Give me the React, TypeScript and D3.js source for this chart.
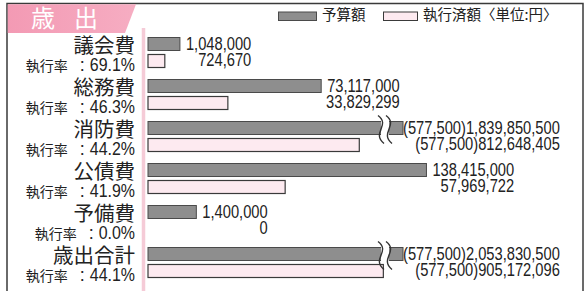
import React, { useEffect, useRef } from 'react';
import * as d3 from 'd3';

// ---- data ----
const categories = ['議会費', '総務費', '消防費', '公債費', '予備費', '歳出合計'];
const executionRates = [69.1, 46.3, 44.2, 41.9, 0.0, 44.1];
const budgetValues = [1048000, 73117000, 1839850500, 138415000, 1400000, 2053830500];
const executedValues = [724670, 33829299, 812648405, 57969722, 0, 905172096];
const notedValues: (number | null)[] = [null, null, 577500, null, null, 577500];
const legendLabels = ['予算額', '執行済額〈単位:円〉'];
const titleText = '歳出';
const rateLabel = '執行率';

const W = 587;
const H = 291;
const CJK = "'Noto Sans CJK JP', 'Noto Sans', sans-serif";
const NUM = "'Liberation Sans', Arial, sans-serif";

type Sel = d3.Selection<any, unknown, null, undefined>;

function narrowText(parent: Sel, x: number, y: number, str: string, size: number, anchor: string, sx: number): number {
  const g = parent.append('g').attr('transform', `translate(${x},${y}) scale(${sx},1)`);
  const t = g.append('text').attr('x', 0).attr('y', 0).attr('text-anchor', anchor)
    .attr('font-family', NUM).attr('font-size', size).attr('fill', '#222').text(str);
  return (t.node() as SVGTextElement).getComputedTextLength() * sx;
}

export default function App() {
  const ref = useRef<SVGSVGElement>(null);
  useEffect(() => {
    const svg = d3.select(ref.current) as unknown as Sel;
    svg.selectAll('*').remove();

    const plotLeft = 148;
    const barH = 13;
    const execOff = 17;

    const y = d3.scaleBand<string>().domain(categories).range([37.5, 37.5 + 42 * categories.length]).paddingInner(0);
    // visual (non-uniform) scale used by the printed chart
    const x = d3.scaleLinear().domain([0, 6e5, 1.5e6, 3.4e7, 7.3e7, 1.4e8]).range([0, 11, 53, 80, 173, 281]);
    // scale for rows whose budget bar is broken (truncated)
    const xLarge = d3.scaleLinear().domain([0, 1e9]).range([0, 260]);
    const capWidth = 255;
    const breakAt = 237;
    const fmt = d3.format(',');
    const maxRegular = x.domain()[x.domain().length - 1];

    // frame
    svg.append('rect').attr('x', 7).attr('y', 3.5).attr('width', 576).attr('height', 300)
      .attr('fill', '#fff').attr('stroke', '#3a3a3a').attr('stroke-width', 1.5);

    // header
    const grad = svg.append('defs').append('linearGradient').attr('id', 'hdr').attr('x1', 0).attr('x2', 1);
    grad.append('stop').attr('offset', 0).attr('stop-color', '#f39ab4');
    grad.append('stop').attr('offset', 1).attr('stop-color', '#f6adc2');
    svg.append('path').attr('d', 'M7.75,4.25 L136,4.25 L125,33 L7.75,33 Z').attr('fill', 'url(#hdr)');
    svg.append('text').attr('x', 31).attr('y', 27).attr('font-family', CJK).attr('font-size', 24)
      .attr('letter-spacing', 19).attr('fill', '#fff').text(titleText);

    // legend
    svg.append('rect').attr('x', 278.5).attr('y', 12).attr('width', 38).attr('height', 8.5)
      .attr('fill', '#8e8e8e').attr('stroke', '#4a4a4a').attr('stroke-width', 1);
    svg.append('text').attr('x', 322).attr('y', 19.5).attr('font-family', CJK).attr('font-size', 14.5)
      .attr('fill', '#222').text(legendLabels[0]);
    svg.append('rect').attr('x', 383.5).attr('y', 12).attr('width', 34).attr('height', 8.5)
      .attr('fill', '#fdeaf0').attr('stroke', '#3a3a3a').attr('stroke-width', 1);
    svg.append('text').attr('x', 423).attr('y', 19.5).attr('font-family', CJK).attr('font-size', 14.5)
      .attr('fill', '#222').text(legendLabels[1]);

    // pink axis line
    svg.append('line').attr('x1', 143.5).attr('x2', 143.5).attr('y1', 28).attr('y2', H)
      .attr('stroke', '#f5cbd7').attr('stroke-width', 3.5);

    categories.forEach((cat, i) => {
      const top = y(cat)!;
      const budget = budgetValues[i];
      const exec = executedValues[i];
      const broken = budget > maxRegular;
      const bw = broken ? capWidth : x(budget);
      const ew = broken ? xLarge(exec) : x(exec);

      // category label
      svg.append('text').attr('x', 135).attr('y', top + 15.5).attr('text-anchor', 'end')
        .attr('font-family', CJK).attr('font-size', 20.5).attr('fill', '#222').text(cat);
      // execution rate line
      const rb = top + 33;
      const dw = narrowText(svg, 135, rb, d3.format('.1f')(executionRates[i]) + '%', 19, 'end', 0.84);
      svg.append('text').attr('x', 135 - dw - 0.5).attr('y', rb).attr('text-anchor', 'end')
        .attr('font-family', CJK).attr('font-size', 14).attr('fill', '#222').text('：');
      svg.append('text').attr('x', 135 - dw - 22).attr('y', rb).attr('text-anchor', 'end')
        .attr('font-family', CJK).attr('font-size', 14).attr('fill', '#222').text(rateLabel);

      // budget bar
      svg.append('rect').attr('x', plotLeft).attr('y', top).attr('width', bw).attr('height', barH)
        .attr('fill', '#8e8e8e').attr('stroke', '#4a4a4a').attr('stroke-width', 1);
      // executed bar
      if (exec > 0) {
        svg.append('rect').attr('x', plotLeft).attr('y', top + execOff).attr('width', ew).attr('height', barH)
          .attr('fill', '#fdeaf0').attr('stroke', '#3a3a3a').attr('stroke-width', 1.2);
      }

      if (broken) {
        const bx = plotLeft + breakAt;
        const y0 = top - 6;
        const y1 = top + barH + 9;
        const L = y1 - y0;
        svg.append('rect').attr('x', bx - 4).attr('y', top - 1).attr('width', 8).attr('height', barH + 2).attr('fill', '#fff');
        [-4, 4].forEach((o) => {
          const cx = bx + o;
          svg.append('path')
            .attr('d', `M${cx - 3},${y0} C${cx + 10},${y0 + L * 0.35} ${cx - 10},${y0 + L * 0.62} ${cx + 3},${y1}`)
            .attr('fill', 'none').attr('stroke', '#333').attr('stroke-width', 1.4);
        });
      }

      // value labels
      const note = notedValues[i];
      const pre = note != null ? `(${fmt(note)})` : '';
      const gap = broken ? 0 : 6;
      const sx = 0.84;
      const w = narrowText(svg, plotLeft + bw + gap, top + 12.5, pre + fmt(budget), 17.5, 'start', sx);
      narrowText(svg, plotLeft + bw + gap + w, top + 28, pre + fmt(exec), 17.5, 'end', sx);
    });
  }, []);

  return (
    <svg ref={ref} width={W} height={H} style={{ position: 'absolute', left: 0, top: 0, background: '#fff' }} />
  );
}
